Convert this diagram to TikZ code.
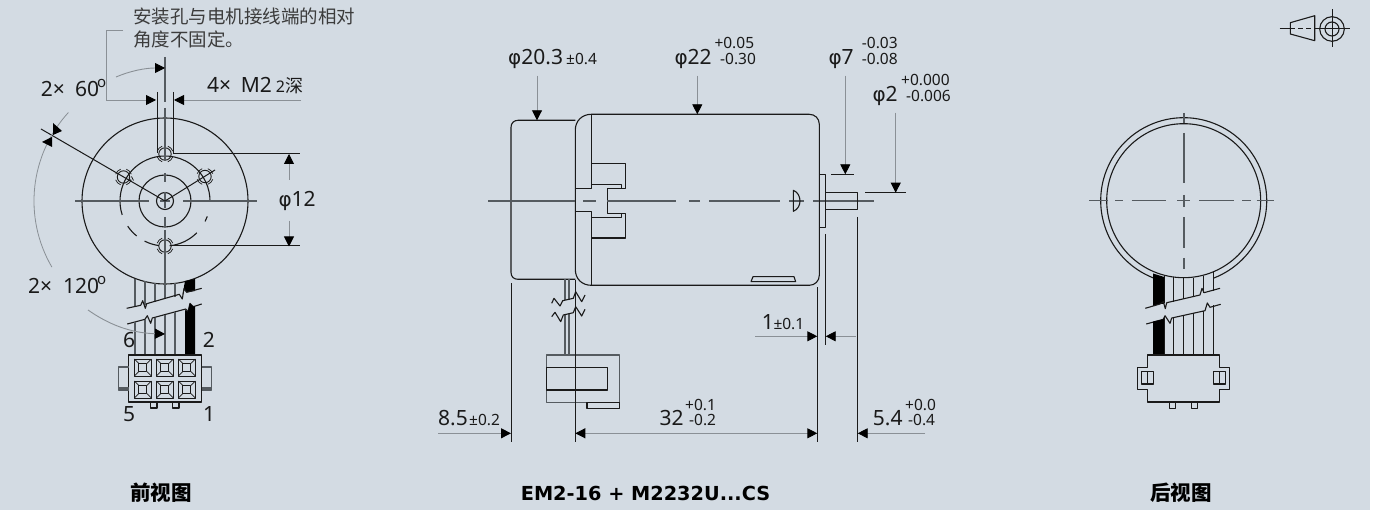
\documentclass[tikz,border=0pt]{standalone}
\usepackage{fontspec}
\setmainfont{Noto Sans}
\newfontfamily\cjk{Noto Sans CJK SC}
\newfontfamily\phifont[Scale=0.95]{DejaVu Sans}
\newfontfamily\titlefont{DejaVu Sans}
\newcommand{\Ph}{{\phifont φ}}
\usetikzlibrary{arrows.meta}
\definecolor{bgc}{HTML}{D3DBE3}
\definecolor{ink}{HTML}{1A1A1A}
\definecolor{cl}{HTML}{555B60}
\definecolor{dimg}{HTML}{8A9096}
\tikzset{
  x=1pt,y=-1pt,
  obj/.style={draw=ink,line width=1.1pt,line join=round},
  cen/.style={draw=cl,line width=1.6pt},
  ext/.style={draw=ink,line width=1pt},
  lead/.style={draw=dimg,line width=0.8pt},
  tip/.style={-{Triangle[length=10pt,width=10pt,color=black,fill=black]},draw=dimg,line width=0.9pt},
  tipb/.style={{Triangle[length=10pt,width=10pt,color=black,fill=black]}-{Triangle[length=10pt,width=10pt,color=black,fill=black]},draw=dimg,line width=0.9pt},
  big/.style={inner sep=0pt,anchor=base west,text=ink,font=\fontsize{21}{21}\selectfont},
  small/.style={inner sep=0pt,anchor=base west,text=ink,font=\fontsize{15.5}{15.5}\selectfont},
  deg/.style={inner sep=0pt,anchor=base west,text=ink,font=\fontsize{15}{15}\selectfont},
  note/.style={inner sep=0pt,anchor=base west,text=ink!85,font=\cjk\fontsize{18.5}{18.5}\selectfont},
  title/.style={inner sep=0pt,anchor=base,text=black,font=\titlefont\bfseries\fontsize{19.3}{19.3}\selectfont},
  ctitle/.style={inner sep=0pt,anchor=base,text=black,font=\cjk\bfseries\fontsize{20.5}{20.5}\selectfont},
}
\newcommand{\cellbox}[2]{%
  \draw[obj,line width=0.9pt] (#1,#2) rectangle ++(17,17);
  \draw[obj,line width=0.7pt] (#1+4.5,#2+4.5) rectangle ++(8,8);
  \draw[obj,line width=0.7pt] (#1,#2)--++(4.5,4.5) (#1+17,#2)--++(-4.5,4.5) (#1,#2+17)--++(4.5,-4.5) (#1+17,#2+17)--++(-4.5,-4.5);
}
\newcommand{\holemark}[2]{%
  \draw[obj,line width=0.9pt] (#1,#2) circle (6.2);
  \foreach \a in {20,110,200,290}{\draw[obj,line width=0.7pt] (#1,#2) ++(\a:8.3) arc[start angle=\a,delta angle=50,radius=8.3];}
}
\begin{document}
\begin{tikzpicture}
\useasboundingbox (0,0) rectangle (1378,510);
\fill[white] (0,0) rectangle (1378,510);
\fill[bgc] (0,0) rectangle (1370,510);

%%% FRONT VIEW
\coordinate (fc) at (165,201);
\draw[obj] (fc) circle (83);
\draw[obj] (fc) circle (26);
\draw[obj] (fc) circle (8.5);
% broken bolt circle
\draw[obj] (fc) ++(162:45) arc[start angle=162,end angle=360,radius=45];
\draw[obj] (fc) ++(146:45) arc[start angle=146,end angle=129,radius=45];
\draw[obj] (fc) ++(117:45) arc[start angle=117,end angle=98,radius=45];
\draw[obj] (fc) ++(84:45) arc[start angle=84,end angle=45,radius=45];
\draw[obj] (fc) ++(27:45) arc[start angle=27,end angle=20,radius=45];
\holemark{165}{154}
\holemark{165}{246}
\holemark{123.5}{177}
\holemark{205}{176.5}
\draw[obj,line width=0.7pt] (129,177.5)--(131,181.5) (131.5,176.5)--(133.5,180.5);
% centre lines
\draw[cen] (75,201)--(149,201) (160,201)--(170,201) (183,201)--(257,201);
\draw[cen] (165,57)--(165,102) (165,108)--(165,160) (165,173)--(165,182) (165,192)--(165,208) (165,217)--(165,227) (165,230)--(165,298);
% 60 degree lines
\draw[ext] (41,129)--(fc)--(215,170);
% dims top
\draw[ext] (157,92)--(157,153) (173,92)--(173,153);
\draw[lead] (123,30)--(106.5,30)--(106.5,100)--(144,100);
\draw[tip] (144,100)--(156,100);
\draw[tip] (301,100)--(174,100);
\draw[tip] (116,77) .. controls (130,71) and (145,68) .. (165,68);
% 60 arrowheads and arc
\draw[lead] (68.4,112.5) arc[start angle=222.5,end angle=149.7,radius=131];
\fill[black] (53,123)--(62,131)--(53,135)--cycle;
\fill[black] (42,142)--(52,137)--(52,147)--cycle;
% phi 12
\draw[ext] (173,154)--(300,154) (173,246)--(300,246);
\draw[tip] (289,180)--(289,154);
\draw[tip] (289,221)--(289,246.5);
% wires upper
\draw[draw=cl,line width=1.2pt] (135,279)--(135,307) (145,281)--(145,305) (155,283)--(155,302) (175,283)--(175,297);
\fill[black] (185,281)--(195,279)--(195,291)--(186.7,292.3)--(184,288.7)--(182.5,295)--cycle;
\draw[obj] (126.7,308.3)--(140.7,305.3)--(142.7,300.7)--(145.3,308.3)--(146.7,303.7)--(179.3,294.3)--(182.3,299)--(184,288.7)--(186.7,292.3)--(201.7,288.3);
\draw[obj] (127.3,324)--(145,319.3)--(147.3,315.7)--(150.7,323.3)--(152.3,318)--(185.7,309)--(188,311.7)--(190,303.3)--(193.3,306.7)--(201.7,304);
% wires lower
\draw[draw=cl,line width=1.2pt] (135,322)--(135,355) (145,320)--(145,355) (155,318)--(155,355) (165,315)--(165,355) (175,312)--(175,355);
\fill[black] (185,310)--(188,311.7)--(190,303.3)--(193.3,306.7)--(195,306.3)--(195,355)--(185,355)--cycle;
\draw[tip] (88,310) .. controls (108,324) and (130,333) .. (165,334);
% connector
\draw[obj] (128.7,355) rectangle (201.7,402);
\draw[obj,draw=cl] (128.7,367)--(118.3,367)--(118.3,390)--(128.7,390) (128.7,388)--(118.3,388);
\draw[obj,draw=cl] (201.7,367)--(211.7,367)--(211.7,390)--(201.7,390) (201.7,388)--(211.7,388);
\draw[obj] (150.3,402) rectangle (157,408) (172.3,402) rectangle (179,408);
\cellbox{134.3}{359}\cellbox{156.3}{359}\cellbox{178.3}{359}
\cellbox{134.3}{381}\cellbox{156.3}{381}\cellbox{178.3}{381}
% front texts
\node[note] (n1) at (133,24) {安装孔与电机接线端的相对};
\node[note] (n2) at (133,47) {角度不固定。};
\node[big] (t60a) at (40.7,96.7) {2×};
\node[big] (t60) at (75,96.7) {60};
\node[deg] (t60o) at (97,87.5) {o};
\node[big] (t4) at (207,92.7) {4×};
\node[big] (tm) at (240.7,92.7) {M2};
\node[small,font=\fontsize{16}{16}\selectfont] (t2) at (275.7,93) {2{\cjk\fontsize{18}{18}\selectfont 深}};
\node[big] (tp12) at (278.3,207) {\Ph 12};
\node[big] (t120a) at (28,294) {2×};
\node[big] (t120) at (63,294) {120};
\node[deg] (t120o) at (97,285) {o};
\node[big] (l6) at (123,347.7) {6};
\node[big] (l2) at (202.7,347.7) {2};
\node[big] (l5) at (123,421.7) {5};
\node[big] (l1) at (203,421.7) {1};

%%% SIDE VIEW
\draw[obj] (575.3,120.3)--(518,120.3) .. controls (514,120.3) and (511,123) .. (511,127.3)--(511,272.3) .. controls (511,277) and (514,279.3) .. (518,279.3)--(575.3,279.3);
\draw[obj] (591.3,114.3) .. controls (582,114.3) and (575.3,121) .. (575.3,130)--(575.3,269.3) .. controls (575.3,279) and (582,285.3) .. (591.3,285.3)--(809.3,285.3) .. controls (815,285.3) and (819.3,281) .. (819.3,275.3)--(819.3,124.3) .. controls (819.3,118.5) and (815,114.3) .. (809.3,114.3)--cycle;
\draw[obj] (591.3,114.3)--(591.3,188.3)--(575.3,188.3);
\draw[obj] (575.3,211.3)--(591.3,211.3)--(591.3,285.3);
\draw[obj] (591.3,163.3)--(625.3,163.3)--(625.3,188.3)--(607.3,188.3)--(607.3,213.3)--(625.3,213.3)--(625.3,238)--(591.3,238);
\draw[obj] (591.3,184.3)--(621.7,184.3)--(621.7,188.3);
\draw[obj] (591.3,217.3)--(621.7,217.3)--(621.7,213.3);
\draw[cen] (488,201)--(575,201) (583,201)--(596,201) (607,201)--(675.7,201) (689,201)--(700,201) (709,201)--(780,201) (789,201)--(804,201) (813,201)--(874,201);
\draw[obj] (793.3,190.3) .. controls (798,192) and (800,197) .. (800,201) .. controls (800,205) and (798,209.5) .. (793.3,211.3)--cycle;
\draw[obj] (819.3,174.3) rectangle (825.7,227.7);
\draw[obj] (825.7,192.3) rectangle (857.7,209.3);
\draw[obj] (751,281.7)--(753,276.7)--(794,276.7)--(795.7,281.7)--cycle;
% wires side
\draw[obj,draw=cl] (565,279.3)--(565,300.5) (569,279.3)--(569,300) (565,315)--(565,355) (569,314)--(569,355);
\draw[obj] (551.7,303.3)--(554,298.3)--(560,306)--(562.7,300.7)--(573.3,298.3)--(575.7,291.7)--(581.7,301.7)--(585,295);
\draw[obj] (551.7,316.7)--(555,312.3)--(560.7,321.7)--(563.3,315)--(573.3,312.7)--(575.7,306.7)--(581.7,316)--(585,309.3);
\draw[obj,draw=cl] (546.7,355) rectangle (619.7,402.3);
\draw[obj] (546.7,367.3) rectangle (607.3,390);
\draw[obj] (587,402.3) rectangle (619.7,408.3);
% ext lines
\draw[ext] (511,283.3)--(511,441.7);
\draw[ext] (575.3,280)--(575.3,441.7);
\draw[ext] (817.3,287.3)--(817.3,441.7);
\draw[ext] (825.7,234)--(825.7,345);
\draw[ext] (857.7,217)--(857.7,441.7);
\draw[ext] (831,174.3)--(853.7,174.3);
\draw[ext] (865,192.7)--(905.7,192.7);
% dims
\draw[tip] (537,75.7)--(537,120.3);
\draw[tip] (697.3,75.7)--(697.3,114.3);
\draw[tip] (845.3,75.7)--(845.3,174.3);
\draw[tip] (895.7,112.7)--(895.7,192.7);
\draw[tip] (755,336.3)--(817.3,336.3);
\draw[tip] (855.7,336.3)--(825.7,336.3);
\draw[tip] (438,433.3)--(511,433.3);
\draw[tipb] (575.3,433.3)--(817.3,433.3);
\draw[tip] (925,433.3)--(857.7,433.3);
% side texts
\node[big] (s1) at (508,65) {\Ph 20.3};
\node[small] (s1t) at (566,65) {±0.4};
\node[big] (s2) at (674.3,65) {\Ph 22};
\node[small] (s2u) at (714.3,48.3) {+0.05};
\node[small] (s2l) at (720,65) {-0.30};
\node[big] (s3) at (828.3,65) {\Ph 7};
\node[small] (s3u) at (861.7,48.3) {-0.03};
\node[small] (s3l) at (861.7,65) {-0.08};
\node[big] (s4) at (872.3,101.7) {\Ph 2};
\node[small] (s4u) at (901,85.7) {+0.000};
\node[small] (s4l) at (906,101.7) {-0.006};
\node[big] (s5) at (438,425.7) {8.5};
\node[small] (s5t) at (469,425.7) {±0.2};
\node[big] (s6) at (761.7,330) {1};
\node[small] (s6t) at (773.3,330) {±0.1};
\node[big] (s7) at (659.3,425.7) {32};
\node[small] (s7u) at (685,410.7) {+0.1};
\node[small] (s7l) at (689,425.7) {-0.2};
\node[big] (s8) at (872.7,425.7) {5.4};
\node[small] (s8u) at (905,410.7) {+0.0};
\node[small] (s8l) at (908,425.7) {-0.4};

%%% REAR VIEW
\coordinate (rc) at (1183.7,200.7);
\draw[obj] (rc) ++(111.7:83) arc[start angle=111.7,end angle=428.7,radius=83];
\draw[obj] (rc) circle (77);
% rear wires
\draw[obj] (1164.3,276)--(1164.3,303) (1173.7,277)--(1173.7,302) (1183.7,278)--(1183.7,299) (1193.7,278)--(1193.7,297) (1203.7,276)--(1203.7,293) (1213.7,272)--(1213.7,291);
\fill[black] (1153,273.5)--(1164.3,277)--(1164.3,304)--(1160,304)--(1153,306)--cycle;
\draw[obj] (1145.3,308.3)--(1160,304)--(1163.3,301.7)--(1165.3,308.7)--(1166.7,302.7)--(1200,295)--(1202,288.3)--(1204,292.7)--(1220,288.3);
\draw[obj] (1146.3,324)--(1163.3,319.3)--(1165,315.7)--(1170,323.3)--(1171.7,318)--(1205,310.7)--(1207.3,303)--(1210,307.3)--(1220.7,304.3);
\fill[black] (1153,321.5)--(1163.3,319.3)--(1164.3,317)--(1164.3,355)--(1153,355)--cycle;
\draw[obj] (1164.3,318)--(1164.3,355) (1173.7,318)--(1173.7,355) (1183.7,316)--(1183.7,355) (1193.7,313)--(1193.7,355) (1203.7,311)--(1203.7,355) (1213.7,305.5)--(1213.7,355);
% rear connector
\draw[obj] (1147.7,355)--(1219.7,355)--(1219.7,367.3)--(1229.7,367.3)--(1229.7,389.3)--(1219.7,389.3)--(1219.7,402)--(1147.7,402)--(1147.7,389.3)--(1137.3,389.3)--(1137.3,367.3)--(1147.7,367.3)--cycle;
\draw[obj] (1141.7,371.7) rectangle (1153.7,384) (1147.7,371.7)--(1147.7,384);
\draw[obj] (1213.7,371.7) rectangle (1225.7,384) (1219.7,371.7)--(1219.7,384);
\draw[obj] (1169.3,402) rectangle (1175.7,408.3) (1191.3,402) rectangle (1197.7,408.3);
\draw[cen] (1089.3,200.7)--(1107.7,200.7) (1115,200.7)--(1123.3,200.7) (1131.7,200.7)--(1166,200.7) (1177.3,200.7)--(1190,200.7) (1199.3,200.7)--(1234,200.7) (1242.3,200.7)--(1250.7,200.7) (1256.7,200.7)--(1274.3,200.7);
\draw[cen] (1183.7,113)--(1183.7,123) (1183.7,133)--(1183.7,182.7) (1183.7,195)--(1183.7,207.3) (1183.7,217.3)--(1183.7,248.3) (1183.7,258)--(1183.7,269);

%%% SYMBOL
\draw[obj] (1290.3,22.7)--(1314.7,15.7)--(1314.7,40.7)--(1290.3,34)--cycle;
\draw[ext] (1279.7,29)--(1290.3,29) (1314.7,29)--(1349.7,29) (1332,9.3)--(1332,47.3);
\draw[ext,dash pattern=on 5pt off 3pt] (1290.3,29)--(1314.7,29);
\draw[obj] (1332,29) circle (12.3) (1332,29) circle (7);

%%% TITLES
\node[ctitle] (c1) at (161,500) {前视图};
\node[title] (c2) at (645.5,500) {EM2-16 + M2232U...CS};
\node[ctitle] (c3) at (1181,500) {后视图};
\end{tikzpicture}
\end{document}
